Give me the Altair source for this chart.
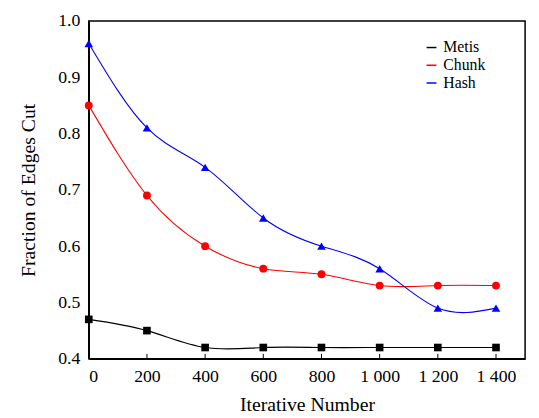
import altair as alt
import pandas as pd

iters = [0, 200, 400, 600, 800, 1000, 1200, 1400]
metis = [0.47, 0.45, 0.42, 0.42, 0.42, 0.42, 0.42, 0.42]
chunk = [0.85, 0.69, 0.60, 0.56, 0.55, 0.53, 0.53, 0.53]
hash_ = [0.96, 0.81, 0.74, 0.65, 0.60, 0.56, 0.49, 0.49]
series = ["Metis", "Chunk", "Hash"]
colors = ["#000000", "#ff0000", "#0000ff"]
shapes = ["square", "circle", "triangle-up"]
x_major = [0, 200, 400, 600, 800, 1000, 1200, 1400]
y_major = [0.4, 0.5, 0.6, 0.7, 0.8, 0.9, 1.0]

rows = []
for name, vals in zip(series, [metis, chunk, hash_]):
    for x, y in zip(iters, vals):
        rows.append({"iter": x, "frac": y, "series": name})
df = pd.DataFrame(rows)

W, H = 443, 343
FONT = "Liberation Serif"
X0, X1, Y0, Y1 = 0, 1500, 0.4, 1.0
px_y = (Y1 - Y0) / H

xs = alt.Scale(domain=[X0, X1], nice=False, zero=False)
ys = alt.Scale(domain=[Y0, Y1], nice=False, zero=False)
cscale = alt.Scale(domain=series, range=colors)

base = alt.Chart(df)

lines = base.mark_line(interpolate="natural", strokeWidth=1.1).encode(
    x=alt.X("iter:Q", scale=xs, title="Iterative Number",
            axis=alt.Axis(values=x_major, tickSize=0, labelPadding=9,
                          labelExpr="replace(format(datum.value, ','), ',', ' ')",
                          titlePadding=10, grid=False)),
    y=alt.Y("frac:Q", scale=ys, title="Fraction of Edges Cut",
            axis=alt.Axis(values=y_major, tickSize=0, labelPadding=9, format=".1f",
                          titlePadding=20, grid=False)),
    color=alt.Color("series:N", scale=cscale,
                    legend=alt.Legend(orient="none", legendX=340, legendY=19, title=None,
                                      labelFont=FONT, labelFontSize=16)),
    detail="series:N",
)

pt_layers = []
for name, shp, sz in zip(series, shapes, [60, 64, 75]):
    pt_layers.append(
        base.transform_filter(alt.datum.series == name)
        .mark_point(filled=True, size=sz, opacity=1, shape=shp)
        .encode(x=alt.X("iter:Q", scale=xs), y=alt.Y("frac:Q", scale=ys),
                color=alt.Color("series:N", scale=cscale, legend=None))
    )

tk = alt.Chart(pd.DataFrame({"v": x_major})).mark_rule(color="black", strokeWidth=1).encode(
    x=alt.X("v:Q", scale=xs),
    y=alt.datum(Y0),
    y2=alt.datum(Y0 + 5 * px_y),
)

chart = alt.layer(lines, *pt_layers, tk).properties(
    width=W, height=H,
    autosize=alt.AutoSizeParams(type="none"),
    padding={"left": 82, "top": 10, "right": 6, "bottom": 57},
).configure_view(
    stroke="black", strokeWidth=1.5
).configure_axis(
    domainColor="black", domainWidth=1.5, tickColor="black",
    labelFont=FONT, labelFontSize=18, labelColor="black",
    titleFont=FONT, titleFontSize=20, titleFontWeight="normal", titleColor="black",
)

chart.save("out.html", embed_options={"renderer": "svg", "actions": False})
